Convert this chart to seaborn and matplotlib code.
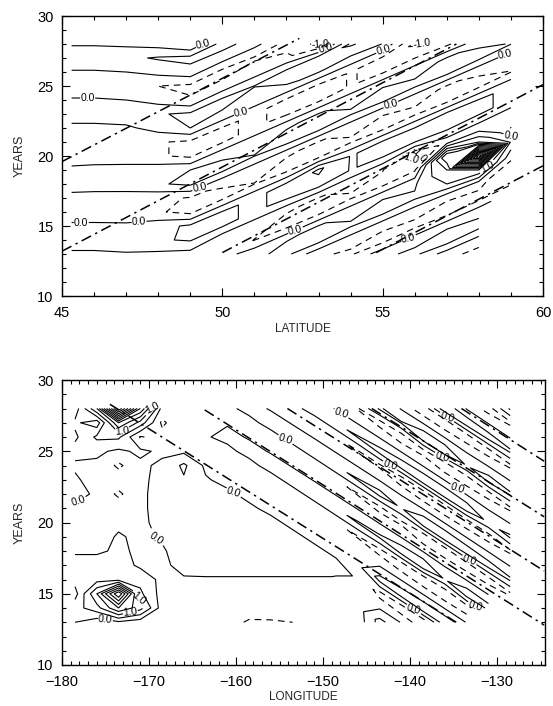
import numpy as np
import matplotlib
matplotlib.use("Agg")
import matplotlib.pyplot as plt
import seaborn as sns

nan = np.nan

# ---- top panel: anomaly field (one list per latitude, years 13..28)
years = [13, 14, 15, 16, 17, 18, 19, 20, 21, 22, 23, 24, 25, 26, 27, 28]
lat = [45.3, 46, 47, 48, 49, 50, 51, 52, 53, 54, 55, 56, 57, 58, 59]
lat_field = [
    [-0.1, 0.3, 0.1, -0.3, -0.2, 0.3, 0.1, -0.25, -0.3, -0.15, 0.3, 0.05, -0.3, -0.05, 0.35, -0.05],
    [-0.1, 0.3, 0.1, -0.3, -0.25, 0.3, 0.15, -0.25, -0.3, -0.15, 0.3, 0.05, -0.3, -0.05, 0.35, -0.05],
    [-0.05, 0.35, 0.1, -0.35, -0.3, 0.35, 0.2, -0.3, -0.35, -0.1, 0.35, 0.0, -0.35, 0.0, 0.4, -0.1],
    [-0.1, 0.45, 0.3, -0.45, -0.35, 0.45, 0.3, -0.45, -0.45, 0.2, 0.45, -0.2, -0.5, 0.15, 0.55, -0.2],
    [-0.2, 0.55, 0.6, -0.65, -0.55, 0.6, 0.5, -0.6, -0.6, 0.5, 0.6, -0.45, -0.6, 0.3, 0.65, -0.5],
    [-0.3, -0.45, 0.55, 0.55, -0.62, -0.45, 0.62, 0.45, -0.55, -0.55, 0.45, 0.62, -0.35, -0.68, 0.24, 0.73],
    [0.37, -0.51, -0.37, 0.45, 0.45, -0.51, -0.37, 0.51, 0.37, -0.45, -0.45, 0.37, 0.51, -0.29, -0.56, 0.2],
    [0.66, 0.48, -0.66, -0.48, 0.58, 0.58, -0.66, -0.48, 0.66, 0.48, -0.58, -0.58, 0.48, 0.66, -0.37, -0.72],
    [-0.41, 0.73, 0.53, -0.73, -0.53, 0.8, 1.1, -0.73, -0.53, 0.73, 0.53, -0.64, -0.64, 0.53, 0.73, -1.1],
    [-0.6, -0.31, 0.55, 0.4, -0.55, -0.4, 0.48, 0.48, -0.55, -0.4, 0.55, 0.4, -0.48, -0.48, 0.4, 1.1],
    [0.37, -0.72, -0.37, 0.66, 0.48, -0.66, -0.48, 0.58, 0.58, -0.66, -0.48, 0.66, 0.48, -0.58, -0.58, 0.48],
    [0.64, 0.33, -0.64, -0.33, 0.58, 0.42, -0.58, -1.1, 0.51, 0.51, -0.58, -0.42, 0.58, 0.42, -0.51, -1.1],
    [-0.28, 0.8, 0.41, -0.8, -0.41, 1.0, 1.5, 2.5, -0.3, 0.64, 0.64, -0.73, -0.53, 0.73, 0.53, -0.64],
    [-0.73, -0.24, 0.68, 0.35, -0.68, -0.35, 1.5, 7.0, 1.0, -0.3, 0.54, 0.54, -0.62, -0.45, 0.62, 0.45],
    [nan, nan, nan, nan, nan, -0.56, -0.9, -0.3, 0.37, -0.51, -0.37, 0.45, 0.45, -0.51, -0.37, 0.51],
]
# how many years the bands have climbed at each latitude column
lat_tilt = [10, 10, 10, 10, 10, 9, 8, 7, 6, 5, 4, 3, 2, 1, 0]

# dash-dot reference lines (lat0, year0, lat1, year1)
lat_lines = [
    (45.0, 19.6, 52.4, 28.4),
    (45.0, 13.2, 57.3, 28.0),
    (50.0, 13.1, 60.0, 25.1),
    (54.8, 13.1, 60.0, 19.3),
]

# ---- bottom panel (one list per longitude, years 13..28)
lon = [-178.5, -176, -173.5, -171, -168.5, -166, -163.5, -161, -158.5, -156, -153.5,
       -151, -148.5, -146, -143.5, -141, -138.5, -136, -133.5, -131, -128.5]
lon_field = [
    [0.0, 0.3, -0.2, 0.2, 0.3, -0.1, -0.2, -0.2, -0.1, 0.2, 0.1, -0.1, 0.2, -0.1, 0.1, -0.3],
    [-0.3, 0.8, 1.5, 0.3, 0.3, -0.1, -0.2, -0.25, -0.2, -0.1, -0.3, -0.1, 0.1, 0.6, -0.3, 1.5],
    [-0.1, 2.0, 4.0, 0.3, 0.25, 0.1, 0.05, -0.1, -0.2, -0.6, -0.2, -0.6, -0.1, 0.6, 2.0, 6.0],
    [-0.3, 1.2, 0.6, 0.35, -0.1, -0.1, -0.1, -0.1, -0.1, -0.1, -0.1, -0.1, 0.1, -0.55, 0.8, 2.5],
    [-0.25, -0.25, -0.2, -0.15, -0.1, -0.05, 0.05, 0.15, 0.2, 0.2, 0.15, 0.1, -0.1, -0.3, -0.6, -0.2],
    [-0.3, -0.3, -0.2, -0.05, 0.15, 0.2, 0.25, 0.25, 0.3, 0.3, 0.45, 0.6, -0.1, -0.1, -0.1, -0.1],
    [-0.3, -0.3, -0.2, -0.05, 0.2, 0.25, 0.25, 0.25, 0.25, 0.2, 0.05, -0.1, -0.1, -0.05, -0.1, -0.1],
    [-0.35, -0.3, -0.2, -0.05, 0.2, 0.25, 0.25, 0.2, 0.15, 0.1, -0.15, -0.05, -0.15, 0.15, -0.05, -0.15],
    [-0.55, -0.3, -0.2, -0.05, 0.2, 0.2, 0.2, 0.15, 0.1, -0.15, -0.05, -0.2, 0.2, -0.05, -0.2, 0.2],
    [-0.55, -0.25, -0.2, -0.05, 0.2, 0.2, 0.2, 0.15, -0.15, -0.05, -0.25, 0.25, -0.05, -0.25, 0.25, -0.05],
    [-0.5, -0.25, -0.2, -0.05, 0.2, 0.2, 0.15, -0.15, -0.05, -0.3, 0.3, -0.05, -0.3, 0.3, -0.05, -0.3],
    [-0.3, -0.25, -0.2, -0.05, 0.2, 0.15, -0.15, -0.05, -0.4, 0.4, -0.05, -0.4, 0.4, -0.05, -0.4, 0.4],
    [-0.3, -0.25, -0.2, -0.05, 0.15, -0.15, -0.05, -0.45, 0.45, -0.05, -0.45, 0.45, -0.05, -0.45, 0.45, -0.05],
    [-0.3, -0.25, -0.15, -0.05, -0.15, -0.05, -0.55, 0.55, -0.05, -0.55, 0.55, -0.05, -0.55, 0.55, -0.05, -0.55],
    [0.7, -0.05, -0.7, 0.7, -0.05, -0.7, 0.6, -0.05, -0.7, 0.7, -0.05, -0.6, 0.7, -0.05, -0.7, 0.6],
    [-0.05, -0.85, 0.85, -0.05, -0.85, 0.85, -0.05, -0.6, 0.45, -0.05, -0.85, 0.85, -0.05, -0.85, 0.55, -0.05],
    [-0.95, 0.95, -0.05, -0.95, 0.95, -0.05, -0.95, 0.95, -0.05, -0.95, 0.95, -0.05, -0.7, 0.95, -0.05, -0.95],
    [0.95, -0.05, -0.95, 0.45, -0.05, -0.95, 0.95, -0.05, -0.95, 0.95, -0.05, -0.95, 0.95, -0.05, -0.95, 0.95],
    [-0.05, -0.85, 0.85, -0.05, -0.85, 0.85, -0.05, -0.85, 0.85, -0.05, -0.85, 0.45, -0.05, -0.85, 0.85, -0.05],
    [nan, 0.75, -0.05, -0.75, 0.75, -0.05, -0.75, 0.4, -0.05, -0.75, 0.75, -0.05, -0.75, 0.75, -0.05, -0.75],
    [nan, nan, -0.6, 0.6, -0.05, -0.6, 0.6, -0.05, -0.6, 0.6, -0.05, -0.6, 0.6, -0.05, -0.6, 0.6],
]
# how many years the bands have dropped at each longitude column
lon_tilt = [0, 0, 0, 0, 0, 0, 0, 0, 0, 0, 1, 2, 3, 4, 5, 6, 7, 8, 9, 10, 11]

lon_lines = [
    (-174.5, 28.3, -134.7, 13.0),
    (-163.6, 27.9, -124.6, 12.8),
    (-154.1, 28.0, -124.6, 16.6),
    (-144.4, 28.0, -124.6, 20.4),
    (-134.1, 28.0, -124.6, 24.3),
]

top_labels = [(49.6, 27.9), (45.8, 24.1), (50.6, 23.0), (49.3, 17.6), (47.4, 15.5),
              (45.6, 15.3), (55.3, 22.8), (58.8, 27.8), (53.2, 28.0), (59.0, 21.5),
              (52.3, 14.3), (55.8, 14.2), (55.0, 27.9), (58.2, 19.7)]
top_neg_labels = [(54.0, 27.9), (57.0, 27.9), (56.2, 20.2), (57.1, 13.8)]
bot_labels = [(-169.5, 27.8), (-173.0, 25.9), (-178.0, 21.1), (-169.0, 19.2), (-160.4, 21.6),
              (-171.0, 14.8), (-175.0, 13.3), (-154.2, 26.3), (-147.8, 28.0), (-135.6, 28.0),
              (-142.4, 23.6), (-134.7, 21.8), (-133.2, 17.3), (-139.7, 13.4), (-132.7, 13.4),
              (-136.3, 24.7), (-172.2, 14.3)]

sns.set_theme(style="ticks")
plt.rcParams["font.family"] = ["Liberation Sans", "DejaVu Sans"]
plt.rcParams["lines.dashed_pattern"] = [6.0, 4.5]

fig = plt.figure(figsize=(5.53, 7.06), dpi=100)
ax1 = fig.add_axes([62 / 553, 1 - 296 / 706, 481 / 553, 280 / 706])
ax2 = fig.add_axes([62 / 553, 1 - 665 / 706, 483 / 553, 285 / 706])

lab_pos = [0.0, 1.0]
other_pos = [0.5, 1.5, 2.0, 2.5, 3.0, 3.5, 4.0, 4.5, 5.0, 5.5, 6.0, 6.5, 7.0]
lab_neg = [-1.0]
other_neg = [-1.5, -0.5]


def band_grid(xs, field, tilt):
    # put each column on a grid whose rows follow the sloping bands
    nrow = len(years) + max(tilt)
    z = np.full((nrow, len(xs)), np.nan)
    yg = np.zeros((nrow, len(xs)))
    for c, col in enumerate(field):
        z[tilt[c]:tilt[c] + len(years), c] = col
        yg[:, c] = years[0] + np.arange(nrow) - tilt[c]
    xg = np.tile(np.array(xs, dtype=float), (nrow, 1))
    return xg, yg, np.ma.masked_invalid(z)


def draw_field(ax, xs, field, tilt, lines, labels, neg_labels):
    xg, yg, z = band_grid(xs, field, tilt)
    kw = dict(colors="black", linewidths=0.8)
    ax.contour(xg, yg, z, levels=other_pos, linestyles="solid", **kw)
    ax.contour(xg, yg, z, levels=other_neg, linestyles="dashed", **kw)
    cp = ax.contour(xg, yg, z, levels=lab_pos, linestyles="solid", **kw)
    cn = ax.contour(xg, yg, z, levels=lab_neg, linestyles="dashed", **kw)
    ax.clabel(cp, manual=labels, fmt="%.1f", fontsize=7.5, inline=True, inline_spacing=1)
    if neg_labels:
        ax.clabel(cn, manual=neg_labels, fmt="%.1f", fontsize=7.5, inline=True,
                  inline_spacing=1)
    for x0, y0, x1, y1 in lines:
        sns.lineplot(x=[x0, x1], y=[y0, y1], ax=ax, color="black", linewidth=1.1,
                     linestyle=(0, (7, 3, 1.5, 3)), sort=False, estimator=None)


draw_field(ax1, lat, lat_field, lat_tilt, lat_lines, top_labels, top_neg_labels)
draw_field(ax2, lon, lon_field, lon_tilt, lon_lines, bot_labels, [])

ax1.set_xlim(45, 60)
ax1.set_xticks([45, 50, 55, 60])
ax1.set_xticks(np.arange(45, 61, 1), minor=True)
ax1.set_xlabel("LATITUDE", fontsize=8.5, labelpad=2)

ax2.set_xlim(-180, -124.5)
ax2.set_xticks([-180, -170, -160, -150, -140, -130])
ax2.set_xticklabels(["\u2212180", "\u2212170", "\u2212160", "\u2212150", "\u2212140", "\u2212130"])
ax2.set_xticks(np.arange(-180, -124, 1), minor=True)
ax2.set_xlabel("LONGITUDE", fontsize=8.5, labelpad=2)

for ax in (ax1, ax2):
    ax.set_ylim(10, 30)
    ax.set_yticks([10, 15, 20, 25, 30])
    ax.set_yticks(np.arange(10, 31, 1), minor=True)
    ax.set_ylabel("YEARS", fontsize=9, labelpad=8)
    ax.tick_params(which="both", direction="in", top=True, right=True, colors="black",
                   labelsize=10.5, width=0.8)
    ax.tick_params(which="major", length=6)
    ax.tick_params(which="minor", length=3)
    ax.tick_params(axis="y", which="major", pad=6)
    ax.tick_params(axis="x", which="major", pad=7)
    for s in ax.spines.values():
        s.set_linewidth(1.0)
        s.set_color("black")

fig.savefig("out.png", dpi=100, facecolor="white")
